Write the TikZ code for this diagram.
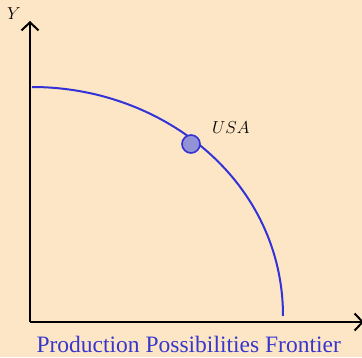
\documentclass[tikz,border=0pt]{standalone}
\usepackage{fontspec}
\newfontfamily\titlefont{Liberation Serif}
\usetikzlibrary{arrows.meta,positioning}
\definecolor{paper}{RGB}{253,230,197}
\definecolor{ppfblue}{RGB}{50,50,215}
\definecolor{dotfill}{RGB}{146,146,214}
\definecolor{captblue}{RGB}{55,55,205}
\begin{document}
\begin{tikzpicture}[
    x=1pt, y=1pt,
    axis/.style={draw=black, line width=2pt, -{Straight Barb[length=8pt,width=17pt,line width=2pt]}},
    frontier/.style={draw=ppfblue, line width=2pt},
    econ/.style={circle, draw=ppfblue, fill=dotfill, line width=1.6pt, inner sep=0pt, minimum size=18pt},
    lbl/.style={font=\fontsize{16}{18}\selectfont, inner sep=0pt}
]
\fill[paper] (0,0) rectangle (362,357);
\useasboundingbox (0,0) rectangle (362,357);

% axes
\coordinate (O) at (30,35);
\coordinate (ytop) at (30,336);
\coordinate (xend) at (364,35);
\draw[axis] (O) -- (ytop);
\draw[axis] (O) -- (xend);
\node[lbl] (ylab) at (14,343) {$Y$};

% frontier
\coordinate (fstart) at (32,270);
\coordinate (fend) at (283,41);
\draw[frontier] (fstart) to[out=0, in=90] (fend);

% economy
\node[econ] (usa) at (191,213) {};
\node[lbl, above right=10pt and 21pt of usa.center] (usalab) {$USA$};

\node[font=\titlefont\fontsize{23.5}{26}\selectfont, text=captblue, inner sep=0pt] (title) at (188.7,13) {Production Possibilities Frontier};
\end{tikzpicture}
\end{document}
